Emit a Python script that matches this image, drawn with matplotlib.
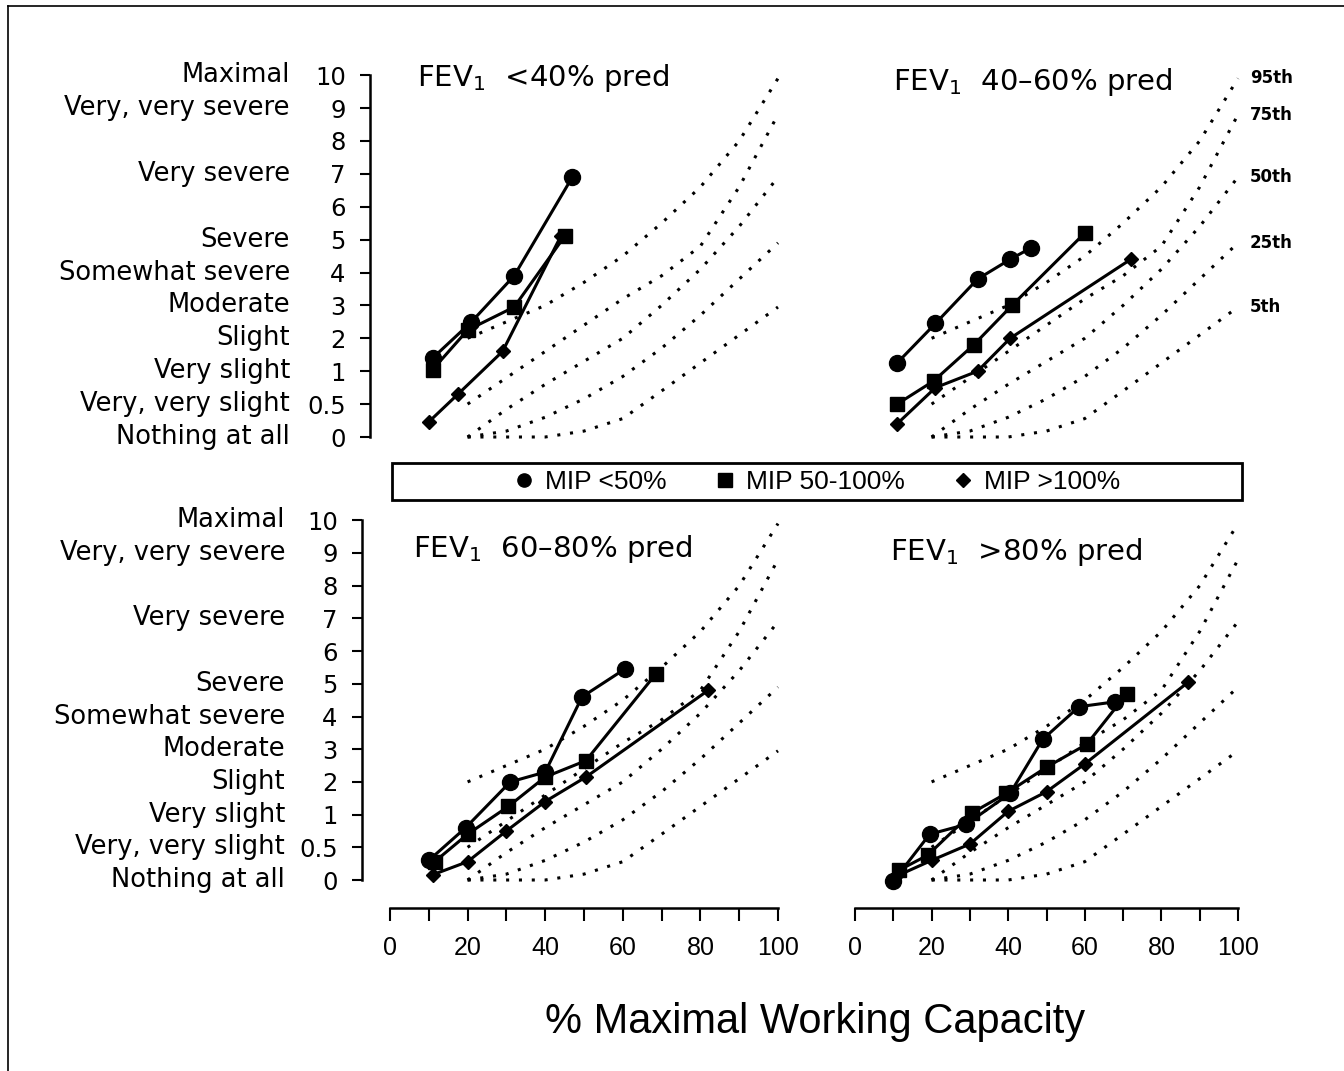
import numpy as np
import matplotlib
matplotlib.use("Agg")
import matplotlib.pyplot as plt
from matplotlib.lines import Line2D
from matplotlib.patches import Rectangle
from matplotlib.ticker import NullLocator

plt.rcParams["font.family"] = "DejaVu Sans"

# Borg scale
borg_ticks = [0, 0.5, 1, 2, 3, 4, 5, 6, 7, 8, 9, 10]
borg_tick_labels = ["0", "0.5", "1", "2", "3", "4", "5", "6", "7", "8", "9", "10"]
word_values = [10, 9, 7, 5, 4, 3, 2, 1, 0.5, 0]
word_labels = ["Maximal", "Very, very severe", "Very severe", "Severe",
               "Somewhat severe", "Moderate", "Slight", "Very slight",
               "Very, very slight", "Nothing at all"]

# normal reference percentiles (dotted)
pct_x = [20, 30, 40, 50, 60, 70, 80, 90, 100]
p95 = [2.0, 2.5, 3.0, 3.7, 4.5, 5.5, 6.6, 8.0, 9.9]
p75 = [0.5, 0.9, 1.6, 2.4, 3.2, 3.9, 4.8, 6.6, 8.8]
p50 = [0.0, 0.42, 0.8, 1.3, 2.0, 3.0, 4.1, 5.4, 6.9]
p25 = [0.0, 0.09, 0.3, 0.58, 0.92, 1.7, 2.7, 3.8, 4.9]
p5 = [0.0, 0.0, 0.0, 0.09, 0.28, 0.7, 1.25, 2.1, 2.95]
pct_labels = ["95th", "75th", "50th", "25th", "5th"]

# FEV1 <40% pred
a_circ_x = [11, 21, 32, 47]
a_circ_y = [1.4, 2.5, 3.9, 6.9]
a_sq_x = [11, 20, 32, 45]
a_sq_y = [1.05, 2.25, 2.95, 5.1]
a_dia_x = [10, 17.5, 29, 44]
a_dia_y = [0.23, 0.65, 1.6, 5.1]

# FEV1 40-60% pred
b_circ_x = [11, 21, 32, 40.5, 46]
b_circ_y = [1.25, 2.45, 3.8, 4.4, 4.75]
b_sq_x = [11, 20.5, 31, 41, 60]
b_sq_y = [0.5, 0.85, 1.8, 3.0, 5.2]
b_dia_x = [11, 21, 32, 40.5, 72]
b_dia_y = [0.2, 0.75, 1.0, 2.0, 4.4]

# FEV1 60-80% pred
c_circ_x = [10, 19.5, 31, 40, 49.5, 60.5]
c_circ_y = [0.3, 0.8, 2.0, 2.3, 4.6, 5.45]
c_sq_x = [11.5, 20, 30.5, 40, 50.5, 68.5]
c_sq_y = [0.28, 0.7, 1.25, 2.15, 2.65, 5.3]
c_dia_x = [11, 20, 30, 40, 50.5, 82]
c_dia_y = [0.08, 0.28, 0.75, 1.4, 2.15, 4.8]

# FEV1 >80% pred
d_circ_x = [10, 19.5, 29, 40.5, 49, 58.5, 68]
d_circ_y = [-0.02, 0.7, 0.85, 1.65, 3.3, 4.3, 4.45]
d_sq_x = [11.5, 19, 30.5, 39.5, 50, 60.5, 71]
d_sq_y = [0.15, 0.38, 1.05, 1.65, 2.45, 3.15, 4.7]
d_dia_x = [10.5, 20, 30, 40, 50, 60, 87]
d_dia_y = [0.05, 0.3, 0.55, 1.1, 1.7, 2.55, 5.05]

legend_labels = ["MIP <50%", "MIP 50-100%", "MIP >100%"]
panel_titles = ["FEV$_1$  <40% pred", "FEV$_1$  40\u201360% pred",
                "FEV$_1$  60\u201380% pred", "FEV$_1$  >80% pred"]


def fwd(v):
    v = np.asarray(v, dtype=float)
    return np.where(v < 1, 2 * v, v + 1)


def inv(t):
    t = np.asarray(t, dtype=float)
    return np.where(t < 2, t / 2, t - 1)


W, H = 1344, 1071
fig = plt.figure(figsize=(W / 100, H / 100), dpi=100)


def add_ax(left, top, right, bottom):
    return fig.add_axes([left / W, 1 - bottom / H, (right - left) / W, (bottom - top) / H])


ax_a = add_ax(370, 55, 800, 445)
ax_b = add_ax(840, 55, 1250, 445)
ax_c = add_ax(362, 500, 800, 908)
ax_d = add_ax(840, 500, 1250, 908)

panels = [
    (ax_a, a_circ_x, a_circ_y, a_sq_x, a_sq_y, a_dia_x, a_dia_y),
    (ax_b, b_circ_x, b_circ_y, b_sq_x, b_sq_y, b_dia_x, b_dia_y),
    (ax_c, c_circ_x, c_circ_y, c_sq_x, c_sq_y, c_dia_x, c_dia_y),
    (ax_d, d_circ_x, d_circ_y, d_sq_x, d_sq_y, d_dia_x, d_dia_y),
]

for i, (ax, cx, cy, sx, sy, dx, dy) in enumerate(panels):
    ax.set_yscale("function", functions=(fwd, inv))
    ax.patch.set_alpha(0)
    for p in [p95, p75, p50, p25, p5]:
        ax.plot(pct_x, p, color="black", lw=2.2, linestyle=(0, (1, 3.2)))
    ax.plot(cx, cy, color="black", lw=2.2, marker="o", ms=11.5)
    ax.plot(sx, sy, color="black", lw=2.2, marker="s", ms=10.5)
    ax.plot(dx, dy, color="black", lw=2.2, marker="D", ms=7.5)

    for s in ax.spines.values():
        s.set_visible(False)

    left = i in (0, 2)
    bottom = i in (2, 3)
    if i in (0, 2):
        ax.set_xlim((ax.get_position().x0 * W - 390) / 3.88, (800 - 390) / 3.88)
    else:
        ax.set_xlim((840 - 855) / 3.83, (1250 - 855) / 3.83)
    if i in (0, 1):
        ax.set_ylim(float(inv((437 - 445) / 32.9)), float(inv((437 - 55) / 32.9)))
    else:
        ax.set_ylim(float(inv((880 - 908) / 32.7)), float(inv((880 - 500) / 32.7)))

    ax.yaxis.set_minor_locator(NullLocator())
    ax.xaxis.set_minor_locator(NullLocator())
    if left:
        ax.spines["left"].set_visible(True)
        ax.spines["left"].set_linewidth(1.8)
        ax.spines["left"].set_bounds(0, 10)
        ax.set_yticks(borg_ticks, labels=borg_tick_labels)
        ax.tick_params(axis="y", direction="out", length=7.5, width=1.5,
                       pad=10, labelsize=17.5)
        off = -80 if i == 0 else -77
        for v, w in zip(word_values, word_labels):
            ax.annotate(w, xy=(0, v), xycoords=ax.get_yaxis_transform(),
                        xytext=(off, 0), textcoords="offset pixels",
                        ha="right", va="center", fontsize=18.5)
    else:
        ax.set_yticks([])
    if bottom:
        ax.spines["bottom"].set_visible(True)
        ax.spines["bottom"].set_linewidth(1.8)
        ax.spines["bottom"].set_bounds(0, 100)
        ax.set_xticks(range(0, 101, 10),
                      labels=[str(t) if t % 20 == 0 else "" for t in range(0, 101, 10)])
        ax.tick_params(axis="x", direction="out", length=9.5, width=1.5,
                       pad=11, labelsize=18)
        for lb in ax.get_xticklabels():
            lb.set_fontfamily("Liberation Sans")
    else:
        ax.set_xticks([])

# percentile labels on the 40-60% panel
for p, lbl in zip([p95, p75, p50, p25, p5], pct_labels):
    ax_b.annotate(lbl, xy=(pct_x[-1], p[-1]), xytext=(12, 0), textcoords="offset pixels",
                  ha="left", va="center", fontsize=12, fontweight="bold",
                  annotation_clip=False)

# panel titles
title_pos = [(417, 86), (893, 90), (413, 557), (890, 560)]
for (tx, ty), t in zip(title_pos, panel_titles):
    fig.text(tx / W, 1 - ty / H, t, ha="left", va="baseline", fontsize=21)

# legend box
fig.add_artist(Rectangle((392 / W, 1 - 500 / H), (1242 - 392) / W, 37 / H,
                         transform=fig.transFigure, fill=False, lw=2, ec="black"))
handles = [Line2D([], [], ls="none", marker=m, color="black", ms=ms)
           for m, ms in [("o", 9.5), ("s", 9.5), ("D", 7)]]
fig.legend(handles, legend_labels, loc="center", bbox_to_anchor=(817 / W, 1 - 482 / H),
           ncol=3, frameon=False, handlelength=0.8, handletextpad=0.4,
           columnspacing=1.8, prop={"family": "Liberation Sans", "size": 19})

fig.text(815 / W, 1 - 1022 / H, "% Maximal Working Capacity", ha="center", va="center",
         fontsize=30, fontfamily="Liberation Sans")

# scan frame
fig.add_artist(Line2D([8 / W, 8 / W], [0, 1 - 6 / H], transform=fig.transFigure, color="black", lw=1.2))
fig.add_artist(Line2D([8 / W, 1], [1 - 6 / H, 1 - 6 / H], transform=fig.transFigure, color="black", lw=1.2))

fig.savefig("out.png", dpi=100)
